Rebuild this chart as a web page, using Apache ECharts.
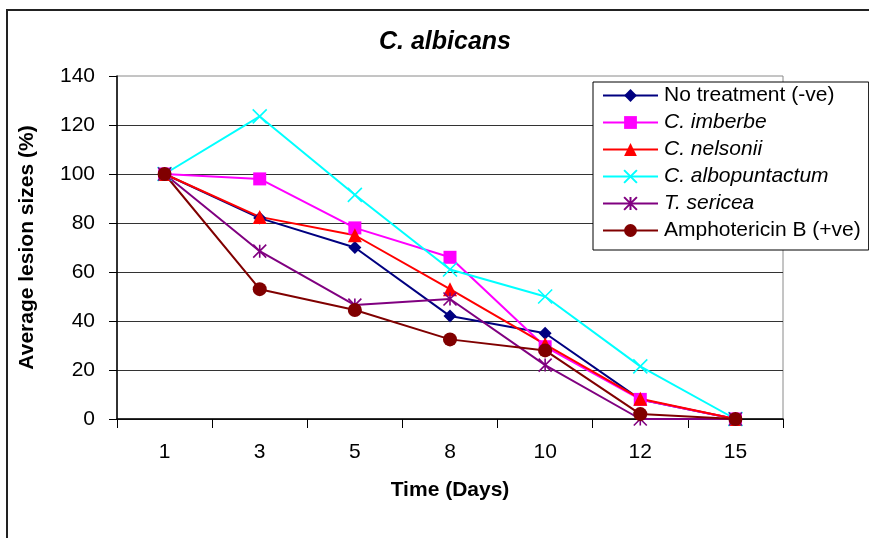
<!DOCTYPE html>
<html>
<head>
<meta charset="utf-8">
<script src="https://cdn.jsdelivr.net/npm/echarts@6/dist/echarts.min.js"></script>
<style>
  html, body { margin: 0; padding: 0; background: #fff; }
  #chart { width: 869px; height: 538px; }
</style>
</head>
<body>
<div id="chart"></div>
<script>
// Time points (days) and average lesion sizes (%) per treatment
const days = ['1', '3', '5', '8', '10', '12', '15'];
const noTreatment = [100, 82, 70, 42, 35, 8, 0];
const imberbe = [100, 98, 78, 66, 29.5, 8, 0];
const nelsonii = [100, 82.5, 75, 53, 30.5, 8.3, 0];
const albopuntactum = [100, 123.5, 91.5, 61, 50, 21.5, 0];
const sericea = [100, 68.5, 46.5, 49, 22, 0, 0];
const amphotericin = [100, 53, 44.5, 32.5, 28, 2, 0];
const yTicks = { min: 0, max: 140, step: 20 };

const names = ['No treatment (-ve)', 'C. imberbe', 'C. nelsonii', 'C. albopuntactum', 'T. sericea', 'Amphotericin B (+ve)'];
const italicNames = ['C. imberbe', 'C. nelsonii', 'C. albopuntactum', 'T. sericea'];

const FONT = '"Liberation Sans", Arial, sans-serif';
const crossPath = 'path://M0 0L20 20M20 0L0 20';
const starPath = 'path://M0 0L20 20M20 0L0 20M10 0L10 20';

function lineSeries(name, data, color, symbol, size, stroked) {
  return {
    name: name,
    type: 'line',
    data: data,
    symbol: symbol,
    symbolSize: size,
    showAllSymbol: true,
    lineStyle: { color: color, width: 2 },
    itemStyle: stroked
      ? { color: 'rgba(0,0,0,0)', borderColor: color, borderWidth: 1.6 }
      : { color: color, borderColor: color, borderWidth: 0 },
    emphasis: { disabled: true },
    animation: false
  };
}

const chart = echarts.init(document.getElementById('chart'));
chart.setOption({
  backgroundColor: '#fff',
  animation: false,
  title: {
    text: 'C. albicans',
    left: 445,
    top: 30,
    padding: 0,
    textAlign: 'center',
    textStyle: { fontFamily: FONT, fontSize: 25, fontWeight: 'bold', fontStyle: 'italic', color: '#000' }
  },
  graphic: [{
    type: 'rect',
    shape: { x: 7, y: 10, width: 900, height: 600 },
    style: { fill: 'none', stroke: '#222', lineWidth: 2 },
    silent: true,
    z: -10
  }],
  legend: {
    orient: 'vertical',
    left: 593,
    top: 82,
    padding: [3, 8, 9, 9],
    itemWidth: 55,
    itemHeight: 16,
    itemGap: 6,
    selectedMode: false,
    backgroundColor: '#fff',
    borderColor: '#000',
    borderWidth: 1,
    borderRadius: 0,
    data: names,
    formatter: function (n) { return italicNames.indexOf(n) >= 0 ? '{i|' + n + '}' : n; },
    textStyle: {
      fontFamily: FONT, fontSize: 21, color: '#000', lineHeight: 20, padding: [0, 0, 0, 1],
      rich: { i: { fontFamily: FONT, fontSize: 21, fontStyle: 'italic', color: '#000', lineHeight: 20 } }
    }
  },
  grid: {
    left: 117, right: 86, top: 76, bottom: 119,
    show: true, borderColor: '#8a8a8a', borderWidth: 1, backgroundColor: 'transparent'
  },
  xAxis: {
    type: 'category',
    data: days,
    boundaryGap: true,
    name: 'Time (Days)',
    nameLocation: 'middle',
    nameGap: 61,
    nameTextStyle: { fontFamily: FONT, fontSize: 21, fontWeight: 'bold', color: '#000' },
    axisLine: { lineStyle: { color: '#000', width: 1.5 } },
    axisTick: { show: true, length: 9, lineStyle: { color: '#000', width: 1 } },
    axisLabel: { fontFamily: FONT, fontSize: 21, color: '#000', margin: 23, interval: 0 },
    splitLine: { show: false }
  },
  yAxis: {
    type: 'value',
    min: yTicks.min,
    max: yTicks.max,
    interval: yTicks.step,
    name: 'Average lesion sizes (%)',
    nameLocation: 'middle',
    nameGap: 79,
    nameTextStyle: { fontFamily: FONT, fontSize: 21, fontWeight: 'bold', color: '#000' },
    axisLine: { show: true, lineStyle: { color: '#000', width: 1.5 } },
    axisTick: { show: true, length: 8, lineStyle: { color: '#000', width: 1 } },
    axisLabel: { fontFamily: FONT, fontSize: 21, color: '#000', margin: 22 },
    splitLine: { show: true, showMaxLine: false, lineStyle: { color: '#333', width: 1 } }
  },
  series: [
    lineSeries(names[0], noTreatment, '#000080', 'diamond', 13, false),
    lineSeries(names[1], imberbe, '#FF00FF', 'rect', 13, false),
    lineSeries(names[2], nelsonii, '#FF0000', 'triangle', 14, false),
    lineSeries(names[3], albopuntactum, '#00FFFF', crossPath, 14, true),
    lineSeries(names[4], sericea, '#800080', starPath, 13, true),
    lineSeries(names[5], amphotericin, '#800000', 'circle', 14, false)
  ]
});
</script>
</body>
</html>
